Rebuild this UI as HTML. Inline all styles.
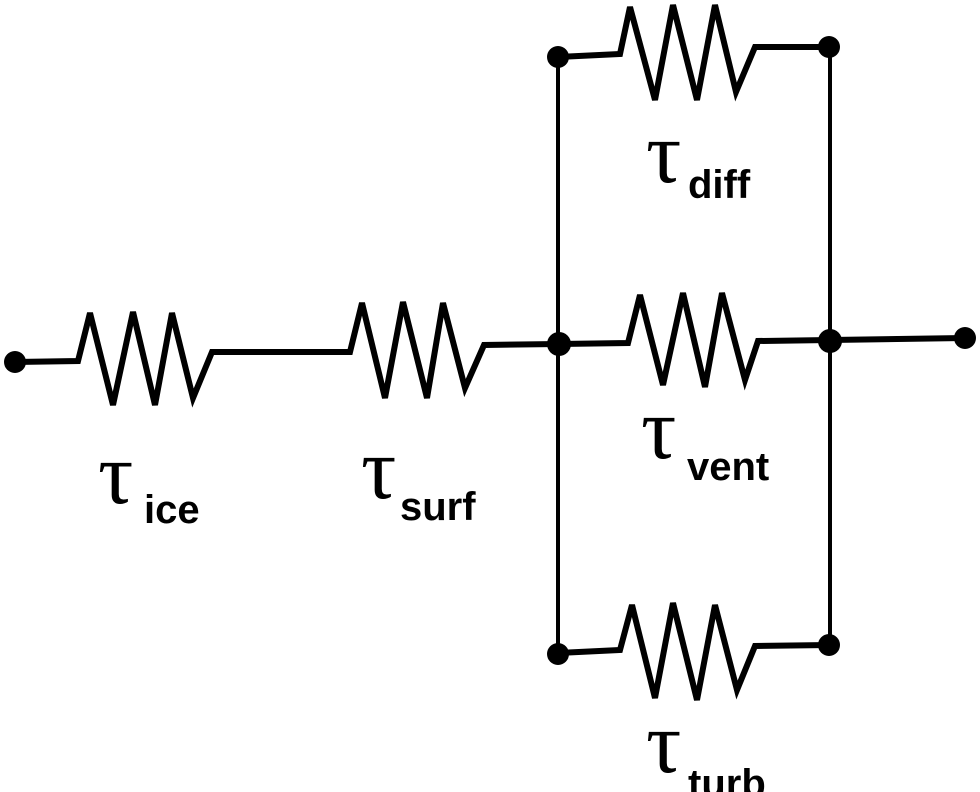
<!DOCTYPE html>
<html><head><style>html,body{margin:0;padding:0;background:#fff}svg{display:block}</style></head>
<body>
<svg width="980" height="792" viewBox="0 0 980 792" xmlns="http://www.w3.org/2000/svg">
<g fill="none" stroke="#000" stroke-linejoin="miter" stroke-linecap="butt">
<g stroke-width="4">
<line x1="558" y1="57" x2="558" y2="654"/>
<line x1="830" y1="47" x2="830" y2="645"/>
</g>
<g stroke-width="6">
<polyline points="15,362 78,361 90,313 113,405 133,312 155,405 172,313 193,398 212,352 350,352 362,303 385,398 403,302 427,398 443,303 465,388 484,345 559,344"/>
<polyline points="558,57 620,54 630,7 655,100 673,5 697,100 715,5 736,92 755,47 830,47"/>
<polyline points="559,344 628,343 640,295 663,385 683,293 705,387 722,293 745,380 758,341 965,338"/>
<polyline points="558,653 620,650 632,605 655,698 673,603 697,700 715,605 737,690 755,646 830,645"/>
</g>
</g>
<g fill="#000">
<circle cx="15" cy="362" r="11"/>
<circle cx="559" cy="344" r="12"/>
<circle cx="830" cy="341" r="12"/>
<circle cx="965" cy="338" r="11"/>
<circle cx="558" cy="57" r="11"/>
<circle cx="829" cy="47" r="11"/>
<circle cx="558" cy="654" r="11"/>
<circle cx="829" cy="645" r="11"/>
</g>
<g font-family="Liberation Serif, serif" font-size="88" fill="#000">
<text x="98" y="503">τ</text>
<text x="361" y="498">τ</text>
<text x="646" y="182">τ</text>
<text x="641" y="458">τ</text>
<text x="646" y="772">τ</text>
</g>
<g font-family="Liberation Sans, Arial, sans-serif" font-weight="bold" font-size="40" fill="#000">
<text x="144" y="523">ice</text>
<text x="400" y="520">surf</text>
<text x="688" y="198">diff</text>
<text x="687" y="480">vent</text>
<text x="688" y="797">turb</text>
</g>
</svg>
</body></html>
